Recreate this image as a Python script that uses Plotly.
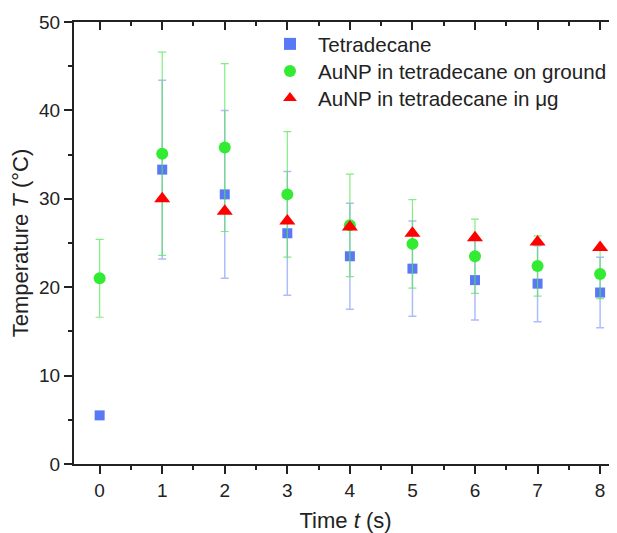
import plotly.graph_objects as go

# values
time_s = [0, 1, 2, 3, 4, 5, 6, 7, 8]

tetradecane = [5.5, 33.3, 30.5, 26.1, 23.5, 22.1, 20.8, 20.4, 19.4]
tetradecane_err = [0, 10.1, 9.5, 7.0, 6.0, 5.4, 4.5, 4.3, 4.0]

aunp_ground = [21.0, 35.1, 35.8, 30.5, 27.0, 24.9, 23.5, 22.4, 21.5]
aunp_ground_err = [4.4, 11.5, 9.5, 7.1, 5.8, 5.0, 4.2, 3.4, 2.8]

time_ug = [1, 2, 3, 4, 5, 6, 7, 8]
aunp_ug = [30.0, 28.6, 27.5, 26.8, 26.1, 25.6, 25.1, 24.5]

x_ticks = [0, 1, 2, 3, 4, 5, 6, 7, 8]
y_ticks = [0, 10, 20, 30, 40, 50]

font = "Liberation Sans, Arial, sans-serif"
axis_col = "#222222"

fig = go.Figure()

fig.add_trace(go.Scatter(
    x=time_s, y=tetradecane, mode="markers", name="Tetradecane", legend="legend",
    marker=dict(symbol="square", size=10, color="rgb(88,120,245)"),
    error_y=dict(type="data", array=tetradecane_err, visible=True,
                 color="rgba(120,145,245,0.6)", thickness=1.5, width=4),
))
fig.add_trace(go.Scatter(
    x=time_s, y=aunp_ground, mode="markers", name="AuNP in tetradecane on ground",
    legend="legend2",
    marker=dict(symbol="circle", size=12, color="rgb(50,235,50)"),
    error_y=dict(type="data", array=aunp_ground_err, visible=True,
                 color="rgba(90,230,90,0.75)", thickness=1.2, width=4),
))
fig.add_trace(go.Scatter(
    x=time_ug, y=aunp_ug, mode="markers", name="AuNP in tetradecane in μg",
    legend="legend3",
    marker=dict(symbol="triangle-up", size=14, color="rgb(255,0,0)"),
))

# invisible trace carrying the top and right axes
fig.add_trace(go.Scatter(x=[0], y=[0], xaxis="x2", yaxis="y2", mode="markers",
                         marker=dict(opacity=0), showlegend=False, hoverinfo="skip"))

# the page body has an 8px margin, so the figure is 8px smaller than the window
W, H = 609, 525
m_l, m_t, m_b = 66, 14, 69
plot_h = H - m_t - m_b

def legend_row(y_px):
    return dict(x=0.3462, y=(H - m_b - y_px) / plot_h, xanchor="left", yanchor="middle",
                bgcolor="rgba(0,0,0,0)", font=dict(size=20.6),
                itemsizing="constant", itemwidth=46)

fig.update_layout(
    width=W, height=H,
    margin=dict(l=m_l, r=0, t=m_t, b=m_b, autoexpand=False),
    paper_bgcolor="white", plot_bgcolor="white",
    font=dict(family=font, size=19, color=axis_col),
    showlegend=True,
    legend=legend_row(36),
    legend2=legend_row(63),
    legend3=legend_row(90),
    xaxis=dict(
        range=[-0.41, 8.27], tickvals=x_ticks, ticktext=[str(v) for v in x_ticks],
        showgrid=False, zeroline=False, automargin=False,
        showline=True, linecolor=axis_col, linewidth=2,
        ticks="outside", ticklen=8, tickwidth=2, tickcolor=axis_col,
        minor=dict(dtick=0.5, ticks="outside", ticklen=4, tickwidth=2, tickcolor=axis_col),
        title=dict(text="Time <i>t</i> (s)", font=dict(size=22), standoff=14),
    ),
    xaxis2=dict(
        overlaying="x", side="top", matches="x", anchor="y",
        tickvals=x_ticks, showticklabels=False, automargin=False,
        showgrid=False, zeroline=False,
        showline=True, linecolor=axis_col, linewidth=2,
        ticks="inside", ticklen=8, tickwidth=2, tickcolor=axis_col,
        minor=dict(dtick=0.5, ticks="inside", ticklen=4, tickwidth=2, tickcolor=axis_col),
    ),
    yaxis=dict(
        range=[0, 50], tickvals=y_ticks,
        showgrid=False, zeroline=False, automargin=False,
        showline=True, linecolor=axis_col, linewidth=2,
        ticks="outside", ticklen=8, tickwidth=2, tickcolor=axis_col,
        minor=dict(dtick=5, ticks="outside", ticklen=4, tickwidth=2, tickcolor=axis_col),
        title=dict(text="Temperature <i>T</i> (°C)", font=dict(size=22), standoff=5),
    ),
    yaxis2=dict(
        overlaying="y", side="right", matches="y", anchor="x",
        tickvals=[10, 20, 30], showticklabels=False, automargin=False,
        showgrid=False, zeroline=False, showline=False,
        ticks="inside", ticklen=4, tickwidth=1.5, tickcolor="rgba(140,150,190,0.6)",
    ),
)

fig.write_html("out.html")
